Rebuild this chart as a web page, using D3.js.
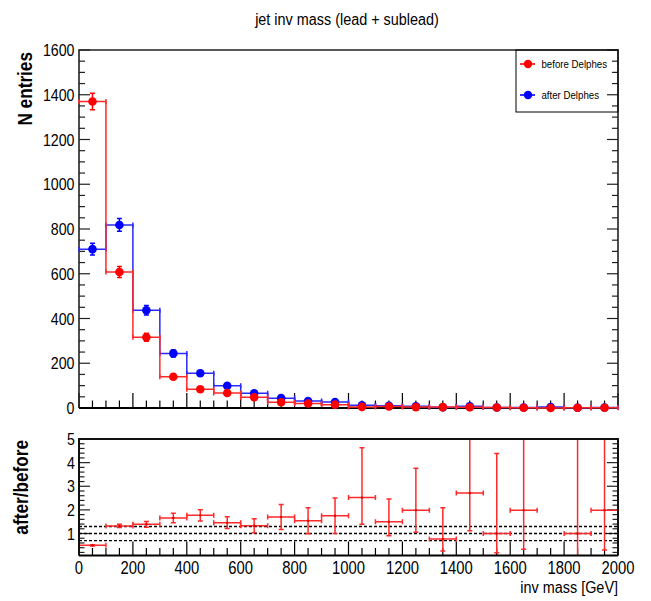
<!DOCTYPE html>
<html>
<head>
<meta charset="utf-8">
<script src="https://cdn.jsdelivr.net/npm/d3@7"></script>
<style>
  body { margin: 0; background: #fff; }
  text { font-family: "Liberation Sans", Arial, sans-serif; fill: #000; }
</style>
</head>
<body>
<svg id="chart" width="651" height="601"></svg>
<script>
// bins of 100 GeV
const binLow = [0, 100, 200, 300, 400, 500, 600, 700, 800, 900, 1000, 1100, 1200, 1300, 1400, 1500, 1600, 1700, 1800, 1900];
const binWidth = 100;

// entries per bin
const beforeCounts = [1370, 608, 316, 140, 84, 67, 48, 26, 20, 15, 5, 7, 4, 4, 3, 2, 1, 0, 1, 1];
const afterCounts = [710, 818, 437, 244, 155, 99, 66, 44, 31, 27, 12, 10, 8, 3, 8, 2, 2, 4, 1, 2];

// after/before ratio with error band (null = empty denominator)
const ratio = [0.50, 1.32, 1.39, 1.66, 1.77, 1.46, 1.33, 1.70, 1.54, 1.75, 2.52, 1.50, 1.99, 0.77, 2.71, 1.00, 1.99, null, 1.00, 1.99];
const ratioLow = [0.47, 1.25, 1.27, 1.46, 1.53, 1.21, 1.03, 1.17, 0.99, 1.00, 1.39, 0.91, 1.05, 0.26, 1.12, 0.19, 0.33, null, 0.00, 0.30];
const ratioHigh = [0.53, 1.39, 1.51, 1.86, 2.01, 1.71, 1.63, 2.23, 2.09, 2.50, 4.63, 2.46, 3.76, 2.09, 6.00, 4.39, 6.00, null, 6.00, 6.00];

const countTicks = [0, 200, 400, 600, 800, 1000, 1200, 1400, 1600];
const massTicks = [0, 200, 400, 600, 800, 1000, 1200, 1400, 1600, 1800, 2000];
const ratioTicks = [1, 2, 3, 4, 5];
const refLines = [0.7, 1.0, 1.3];

const series = [
  { name: "after Delphes", counts: afterCounts, color: "#0000ff", line: "#2a2aff" },
  { name: "before Delphes", counts: beforeCounts, color: "#ff0000", line: "#ff2a2a" },
];

const svg = d3.select("#chart");

const x = d3.scaleLinear().domain([0, 2000]).range([79, 618]);
const y = d3.scaleLinear().domain([0, 1600]).range([408, 50]);
const yR = d3.scaleLinear().domain([0.07, 5]).range([555.5, 439]);

// narrow the text a bit, like the ROOT fonts
function squeeze(sel, k) {
  sel.each(function () {
    const w = this.getComputedTextLength();
    d3.select(this).attr("textLength", w * k).attr("lengthAdjust", "spacingAndGlyphs");
  });
}

// ---------- title ----------
svg.append("text")
  .attr("x", 347).attr("y", 25)
  .attr("text-anchor", "middle")
  .style("font-size", "16px")
  .text("jet inv mass (lead + sublead)")
  .call(squeeze, 0.9);

// ---------- upper pad ----------
const upperPad = svg.append("g");

// ticks along x (inside, from the bottom axis)
const minorMass = d3.range(0, 2001, 50);
upperPad.selectAll(".xt").data(minorMass).enter().append("line")
  .attr("x1", (d) => x(d)).attr("x2", (d) => x(d))
  .attr("y1", 408)
  .attr("y2", (d) => (d % 200 === 0 ? 393 : 400.5))
  .attr("stroke", "#000").attr("stroke-width", 1.2);

// ticks along y, both sides
const minorCount = d3.range(0, 1601, 50);
[[79, 1], [618, -1]].forEach(([x0, dir]) => {
  upperPad.selectAll(null).data(minorCount).enter().append("line")
    .attr("x1", x0)
    .attr("x2", (d) => x0 + dir * (d % 200 === 0 ? 11 : 6))
    .attr("y1", (d) => y(d)).attr("y2", (d) => y(d))
    .attr("stroke", "#222").attr("stroke-width", 1.2);
});

// y labels
upperPad.selectAll(".yl").data(countTicks).enter().append("text")
  .attr("x", 74.5).attr("y", (d) => y(d) + 6)
  .attr("text-anchor", "end")
  .style("font-size", "16.5px")
  .text((d) => d)
  .call(squeeze, 0.86);

// frame
upperPad.append("path")
  .attr("d", `M${x(0)},${y(0)}V${y(1600)}H${x(2000)}V${y(0)}`)
  .attr("fill", "none").attr("stroke", "#222").attr("stroke-width", 1.6);
upperPad.append("line")
  .attr("x1", x(0)).attr("x2", x(2000)).attr("y1", y(0)).attr("y2", y(0))
  .attr("stroke", "#000").attr("stroke-width", 2);

// y title
svg.append("text")
  .attr("transform", "translate(32,52) rotate(-90)")
  .attr("text-anchor", "end")
  .style("font-size", "20px").style("font-weight", "bold")
  .text("N entries")
  .call(squeeze, 0.86);

// histograms
const stepLine = d3.line().x((d) => x(d[0])).y((d) => y(d[1]));

series.forEach((s) => {
  const g = upperPad.append("g");
  const pts = [];
  s.counts.forEach((c, i) => {
    pts.push([binLow[i], c], [binLow[i] + binWidth, c]);
  });
  g.append("path")
    .attr("d", stepLine(pts))
    .attr("fill", "none").attr("stroke", s.line).attr("stroke-width", 1.5);

  const bins = s.counts.map((c, i) => ({ lo: binLow[i], c: c, e: Math.sqrt(c) }));

  // caps at the ends of the horizontal bars
  g.selectAll(".hc").data(bins).enter().append("path")
    .attr("d", (d) => `M${x(d.lo)},${y(d.c) - 2.5}v5M${x(d.lo + binWidth)},${y(d.c) - 2.5}v5`)
    .attr("stroke", s.line).attr("stroke-width", 1.5);

  // vertical error bars
  g.selectAll(".ve").data(bins.filter((d) => d.e > 0)).enter().append("path")
    .attr("d", (d) => {
      const cx = x(d.lo + binWidth / 2);
      const y1 = y(d.c + d.e), y2 = y(d.c - d.e);
      return `M${cx},${y1}V${y2}M${cx - 2.5},${y1}h5M${cx - 2.5},${y2}h5`;
    })
    .attr("stroke", s.color).attr("stroke-width", 1.5);

  g.selectAll("circle").data(bins).enter().append("circle")
    .attr("cx", (d) => x(d.lo + binWidth / 2))
    .attr("cy", (d) => y(d.c))
    .attr("r", 4.3)
    .attr("fill", s.color);
});

// legend
const legend = svg.append("g");
legend.append("rect")
  .attr("x", 516).attr("y", 50).attr("width", 102).attr("height", 62)
  .attr("fill", "none").attr("stroke", "#000").attr("stroke-width", 1);
[series[1], series[0]].forEach((s, i) => {
  const ly = 64 + i * 31;
  legend.append("line")
    .attr("x1", 520).attr("x2", 535).attr("y1", ly).attr("y2", ly)
    .attr("stroke", s.color).attr("stroke-width", 1.6);
  legend.append("circle").attr("cx", 528).attr("cy", ly).attr("r", 4.2).attr("fill", s.color);
  legend.append("text")
    .attr("x", 541.5).attr("y", ly + 4)
    .style("font-size", "11.5px")
    .text(s.name)
    .call(squeeze, 0.84);
});

// ---------- lower pad ----------
const lowerPad = svg.append("g");

svg.append("clipPath").attr("id", "ratioClip")
  .append("rect").attr("x", 79).attr("y", 439).attr("width", 539).attr("height", 116.5);

// ticks along x
lowerPad.selectAll(".xt").data(minorMass).enter().append("line")
  .attr("x1", (d) => x(d)).attr("x2", (d) => x(d))
  .attr("y1", 555.5)
  .attr("y2", (d) => (d % 200 === 0 ? 541.5 : 548))
  .attr("stroke", "#000").attr("stroke-width", 1.2);

// ticks along y, both sides
const minorRatio = d3.range(0.2, 5.01, 0.2).map((v) => +v.toFixed(1));
[[79, 1], [618, -1]].forEach(([x0, dir]) => {
  lowerPad.selectAll(null).data(minorRatio).enter().append("line")
    .attr("x1", x0)
    .attr("x2", (d) => x0 + dir * (Number.isInteger(d) ? 11 : 5.5))
    .attr("y1", (d) => yR(d)).attr("y2", (d) => yR(d))
    .attr("stroke", "#222").attr("stroke-width", 1.2);
});

// reference lines
lowerPad.selectAll(".ref").data(refLines).enter().append("line")
  .attr("x1", x(0)).attr("x2", x(2000))
  .attr("y1", (d) => yR(d)).attr("y2", (d) => yR(d))
  .attr("stroke", "#000").attr("stroke-width", 1.4)
  .attr("stroke-dasharray", "3,2");

// ratio points
const rbins = ratio
  .map((r, i) => ({ lo: binLow[i], r: r, a: ratioLow[i], b: ratioHigh[i] }))
  .filter((d) => d.r !== null);

const rg = lowerPad.append("g").attr("clip-path", "url(#ratioClip)");
rg.selectAll(".rh").data(rbins).enter().append("path")
  .attr("d", (d) => {
    const x1 = x(d.lo), x2 = x(d.lo + binWidth), yy = yR(d.r);
    return `M${x1},${yy}H${x2}M${x1},${yy - 2.5}v5M${x2},${yy - 2.5}v5`;
  })
  .attr("stroke", "#ff2a2a").attr("stroke-width", 1.5);
rg.selectAll(".rv").data(rbins).enter().append("path")
  .attr("d", (d) => {
    const cx = x(d.lo + binWidth / 2), y1 = yR(d.b), y2 = yR(d.a);
    return `M${cx},${y1}V${y2}M${cx - 2.5},${y1}h5M${cx - 2.5},${y2}h5`;
  })
  .attr("stroke", "#ff2a2a").attr("stroke-width", 1.5);
rg.selectAll("circle").data(rbins).enter().append("circle")
  .attr("cx", (d) => x(d.lo + binWidth / 2)).attr("cy", (d) => yR(d.r))
  .attr("r", 1.2).attr("fill", "#e00000");

// frame
lowerPad.append("path")
  .attr("d", `M${x(0)},555.5V439H${x(2000)}V555.5`)
  .attr("fill", "none").attr("stroke", "#111").attr("stroke-width", 2);
lowerPad.append("line")
  .attr("x1", x(0)).attr("x2", x(2000)).attr("y1", 555.5).attr("y2", 555.5)
  .attr("stroke", "#000").attr("stroke-width", 2);

// labels
lowerPad.selectAll(".yl").data(ratioTicks).enter().append("text")
  .attr("x", 75).attr("y", (d) => yR(d) + 6)
  .attr("text-anchor", "end")
  .style("font-size", "16.5px")
  .text((d) => d)
  .call(squeeze, 0.86);

lowerPad.selectAll(".xl").data(massTicks).enter().append("text")
  .attr("x", (d) => x(d)).attr("y", 574)
  .attr("text-anchor", "middle")
  .style("font-size", "19px")
  .text((d) => d)
  .call(squeeze, 0.78);

svg.append("text")
  .attr("x", 618).attr("y", 593)
  .attr("text-anchor", "end")
  .style("font-size", "16px")
  .text("inv mass [GeV]")
  .call(squeeze, 0.9);

svg.append("text")
  .attr("transform", "translate(28,440) rotate(-90)")
  .attr("text-anchor", "end")
  .style("font-size", "20px").style("font-weight", "bold")
  .text("after/before")
  .call(squeeze, 0.86);
</script>
</body>
</html>
